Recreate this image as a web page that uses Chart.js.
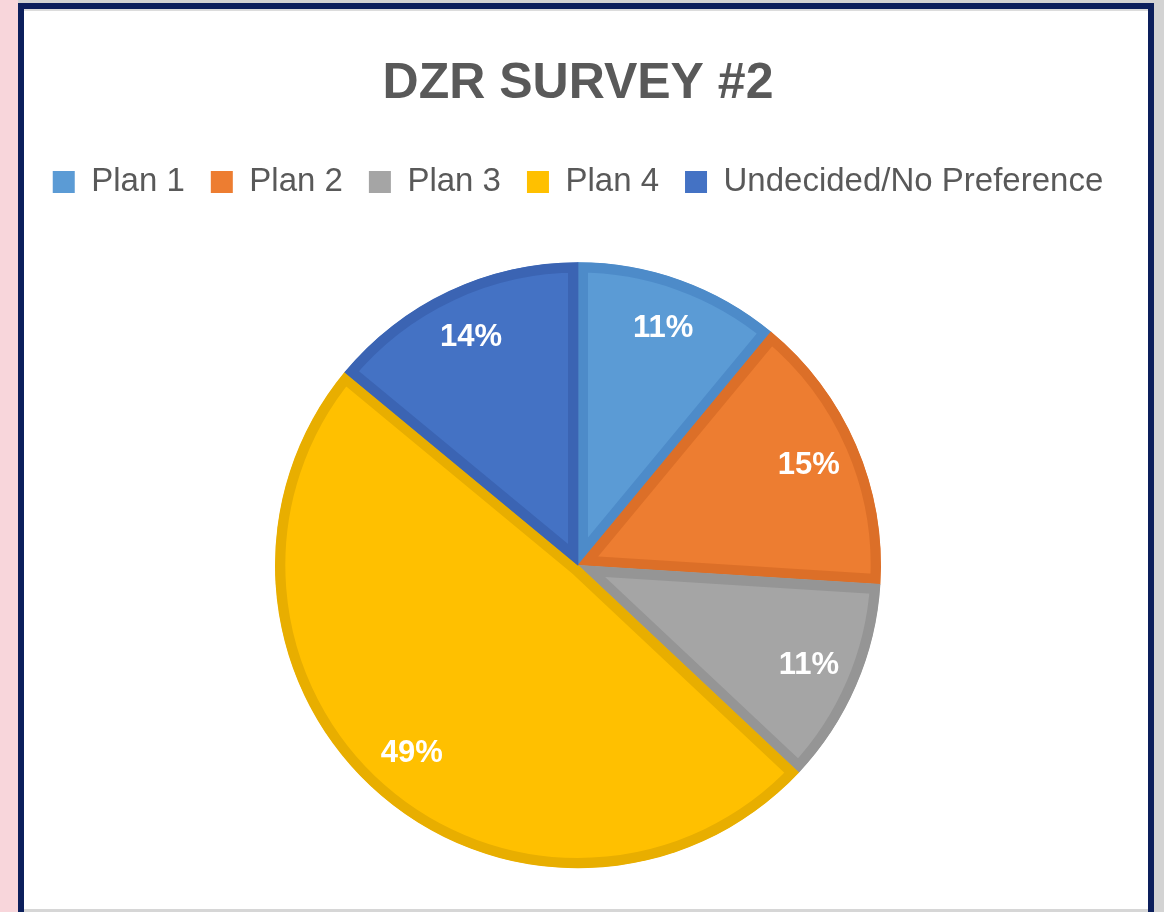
<!DOCTYPE html>
<html>
<head>
<meta charset="utf-8">
<script src="https://cdn.jsdelivr.net/npm/chart.js@4.4.1/dist/chart.umd.min.js"></script>
<style>
	html, body { margin: 0; padding: 0; }
	body {
		width: 1164px; height: 912px; overflow: hidden; position: relative;
		background: linear-gradient(to right, #f8d6db 0px, #f8d6db 18px, #d3d3d3 18px);
	}
	#frame {
		position: absolute; left: 18px; top: 3px; width: 1124px; height: 906px;
		border: 6px solid #0c1f5c; border-bottom: none; background: #ffffff;
		overflow: hidden;
	}
	#frame .shade { position: absolute; left: 0; top: 0; width: 100%; height: 2px; background: #dcdcdc; }
	#bottomline { position: absolute; left: 24px; top: 909px; width: 1124px; height: 3px; background: #d6d6d6; }
	#chartBox { position: absolute; left: 0; top: 0; width: 1108px; height: 913px; }
</style>
</head>
<body>
<div id="frame">
	<div class="shade"></div>
	<div id="chartBox"><canvas id="survey_Chart"></canvas></div>
</div>
<div id="bottomline"></div>
<script>
// 데이터
var categories = ['Plan 1', 'Plan 2', 'Plan 3', 'Plan 4', 'Undecided/No Preference'];
var percents = [11, 15, 11, 49, 14];
var fillColors = ['#5b9bd5', '#ed7d31', '#a5a5a5', '#ffc000', '#4472c4'];
var edgeColors = ['#4d8bc9', '#dc6f28', '#959595', '#e8ae00', '#3b64b3'];

// 조각 안에 퍼센트 글자
var pieLabels = {
	id: 'pieLabels',
	afterDatasetsDraw: function(chart) {
		var ctx = chart.ctx;
		var arcs = chart.getDatasetMeta(0).data;
		ctx.save();
		ctx.fillStyle = '#ffffff';
		ctx.font = 'bold 31px "Liberation Sans", Arial, sans-serif';
		ctx.textAlign = 'center';
		ctx.textBaseline = 'middle';
		for (var i = 0; i < arcs.length; i++) {
			var a = arcs[i];
			var mid = (a.startAngle + a.endAngle) / 2;
			var r = a.outerRadius * 0.83;
			ctx.fillText(percents[i] + '%', a.x + Math.cos(mid) * r, a.y + Math.sin(mid) * r);
		}
		ctx.restore();
	}
};

var context = document.getElementById('survey_Chart').getContext('2d');
var survey_Chart = new Chart(context, {
	type: 'pie',
	data: {
		labels: categories,
		datasets: [{
			data: percents,
			backgroundColor: fillColors,
			borderColor: edgeColors,
			borderWidth: 10,
			borderAlign: 'inner',
			borderJoinStyle: 'miter'
		}]
	},
	options: {
		responsive: true,
		maintainAspectRatio: false,
		animation: false,
		radius: 303,
		layout: { padding: 0 },
		plugins: {
			title: {
				display: true,
				text: 'DZR SURVEY #2',
				color: '#595959',
				font: { family: '"Liberation Sans", Arial, sans-serif', size: 50, weight: 'bold' },
				padding: { top: 45, bottom: 25.5 }
			},
			legend: {
				position: 'top',
				labels: {
					color: '#595959',
					font: { family: '"Liberation Sans", Arial, sans-serif', size: 33 },
					boxWidth: 22,
					boxHeight: 22,
					padding: 26,
					// 범례 상자는 테두리 없이 채우기만
					generateLabels: function(chart) {
						var items = Chart.controllers.pie.overrides.plugins.legend.labels.generateLabels(chart);
						items.forEach(function(it, i) {
							it.strokeStyle = fillColors[i];
							it.lineWidth = 0;
						});
						return items;
					}
				}
			},
			tooltip: { enabled: false }
		}
	},
	plugins: [pieLabels]
});
</script>
</body>
</html>
